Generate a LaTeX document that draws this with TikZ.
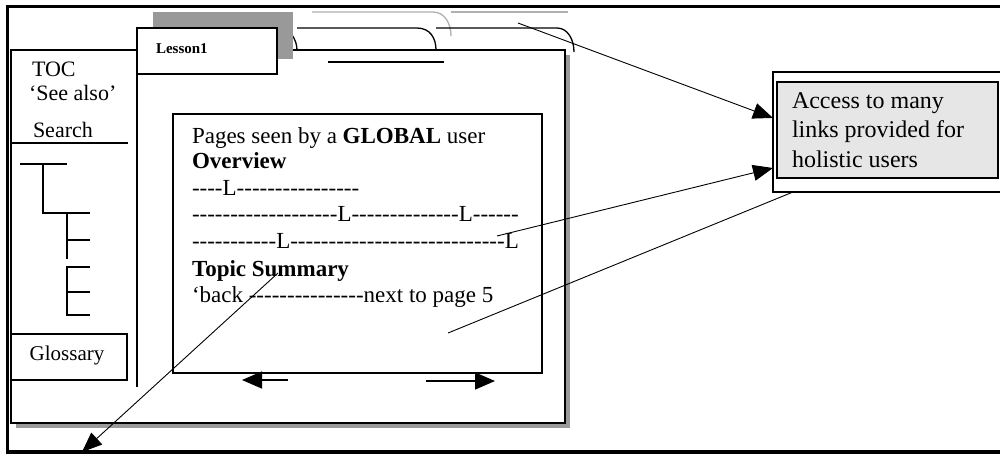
\documentclass[tikz,border=0pt]{standalone}
\usepackage{fontspec}
\setmainfont{Liberation Serif}
\newfontfamily\dashfont{Liberation Serif}
\usetikzlibrary{arrows.meta,calc}
\definecolor{shadowgray}{HTML}{9A9A9A}
\definecolor{tabgray}{HTML}{999999}
\definecolor{faintline}{HTML}{B0B0B0}
\definecolor{boxgray}{HTML}{E6E6E6}
\begin{document}
\begin{tikzpicture}[x=1pt,y=-1pt,
  frame/.style={line width=1.3pt},
  plain/.style={line width=0.9pt},
  conn/.style={line width=0.9pt,-{Triangle[length=20pt,width=16pt]}},
  navarrow/.style={line width=1.4pt,-{Triangle[length=20pt,width=17pt]}},
  box/.style={draw,frame,inner sep=0pt,outer sep=0pt,anchor=north west},
  txt/.style={anchor=base west,inner sep=0pt,outer sep=0pt},
  ftoc/.style={font=\fontsize{22}{22}\selectfont},
  fmain/.style={font=\fontsize{23}{23}\selectfont},
  fdash/.style={font=\dashfont\fontsize{23}{23}\selectfont},
  fbox/.style={font=\fontsize{24}{24}\selectfont},
]
\useasboundingbox (0,0) rectangle (1000,459);
\clip (0,0) rectangle (1000,459);
\fill[white] (0,0) rectangle (1000,459);
% outer frame
\draw[line width=3.5pt] (7.5,6.5) rectangle (1030,452);

% main window with shadow
\fill[shadowgray] (16,55) rectangle (570,428);
\node[box,fill=white,minimum width=554pt,minimum height=373pt] (win) at (11,50) {};

% tabs behind
\draw[frame] (279,28) .. controls (290,28) and (297,40) .. (297,50);
\draw[frame,faintline] (312,12) -- (433,12) .. controls (445,12) and (451,24) .. (451,36);
\draw[frame,faintline] (451,12) -- (568,12);
\draw[frame] (297,28) -- (417,28) .. controls (430,28) and (436,38) .. (436,50);
\draw[frame] (436,28) -- (557,28) .. controls (568,28) and (574,40) .. (574,52);
\draw[frame] (328,62) -- (444,62);

% lesson tab
\node[anchor=north west,fill=tabgray,inner sep=0pt,minimum width=140pt,minimum height=47pt] (tabshade) at (153,12) {};
\node[box,fill=white,minimum width=140pt,minimum height=46pt] (tab) at (137,28) {};
\node[txt,font=\fontsize{15}{15}\selectfont\bfseries] (lesson) at (156,53) {Lesson1};

% left panel
\draw[line width=1.6pt] (137,28) -- (137,387);
\node[txt,ftoc] (toc) at (32,76) {TOC};
\node[txt,ftoc] (seealso) at (29,100) {‘See also’};
\node[txt,ftoc] (search) at (33,137) {Search};
\draw[frame] (11,143) -- (128,143);
% tree
\draw[frame] (20,164) -- (67,164) (43,164) -- (43,213) -- (90,213)
  (67,213) -- (67,259) (67,240) -- (90,240)
  (90,267) -- (67,267) -- (67,315) -- (90,315) (67,292) -- (90,292);
\node[box,minimum width=116pt,minimum height=46pt] (gloss) at (11,334) {};
\node[font=\fontsize{21}{21}\selectfont,inner sep=0pt] (glosstxt) at (67,355) {Glossary};

% content box
\node[box,line width=1.4pt,minimum width=369pt,minimum height=259pt] (content) at (173,114) {};
\node[txt,fmain] (l1) at (192,143) {Pages seen by a \textbf{GLOBAL} user};
\node[txt,fmain] (l2) at (192,168) {\textbf{Overview}};
\node[txt,fdash] (l3) at (192,195) {----L----------------};
\node[txt,fdash] (l4) at (192,221) {-------------------L--------------L------};
\node[txt,fdash] (l5) at (192,248) {-----------L----------------------------L};
\node[txt,fmain] (l6) at (192,276) {\textbf{Topic Summary}};
\node[txt,fdash] (l7) at (192,302) {‘back ---------------next to page 5};

% navigation arrows
\coordinate (bk1) at (288,380); \coordinate (bk2) at (242,380);
\coordinate (nx1) at (426,381); \coordinate (nx2) at (495,381);
\draw[navarrow] (bk1) -- (bk2);
\draw[navarrow] (nx1) -- (nx2);

% right box
\node[box,fill=white,minimum width=260pt,minimum height=120pt] (accessout) at (773,72) {};
\node[box,fill=boxgray,minimum width=221pt,minimum height=96pt] (access) at (777,82) {};
\node[txt,fbox] (a1) at (792,108) {Access to many};
\node[txt,fbox] (a2) at (792,137) {links provided for};
\node[txt,fbox] (a3) at (792,167) {holistic users};

% connectors
\coordinate (c1) at (518,23);
\coordinate (c2) at (497,236);
\coordinate (c3) at (448,333);
\coordinate (c4) at (278,273);
\coordinate (c4e) at (82,452);
\draw[conn] (c1) -- ($(accessout.north west)!0.383!(accessout.south west)$);
\draw[conn] (c2) -- ($(accessout.north west)!0.8!(accessout.south west)$);
\draw[plain] (c3) -- ($(accessout.south west)+(20,0)$);
\draw[conn] (c4) -- (c4e);
\end{tikzpicture}
\end{document}
